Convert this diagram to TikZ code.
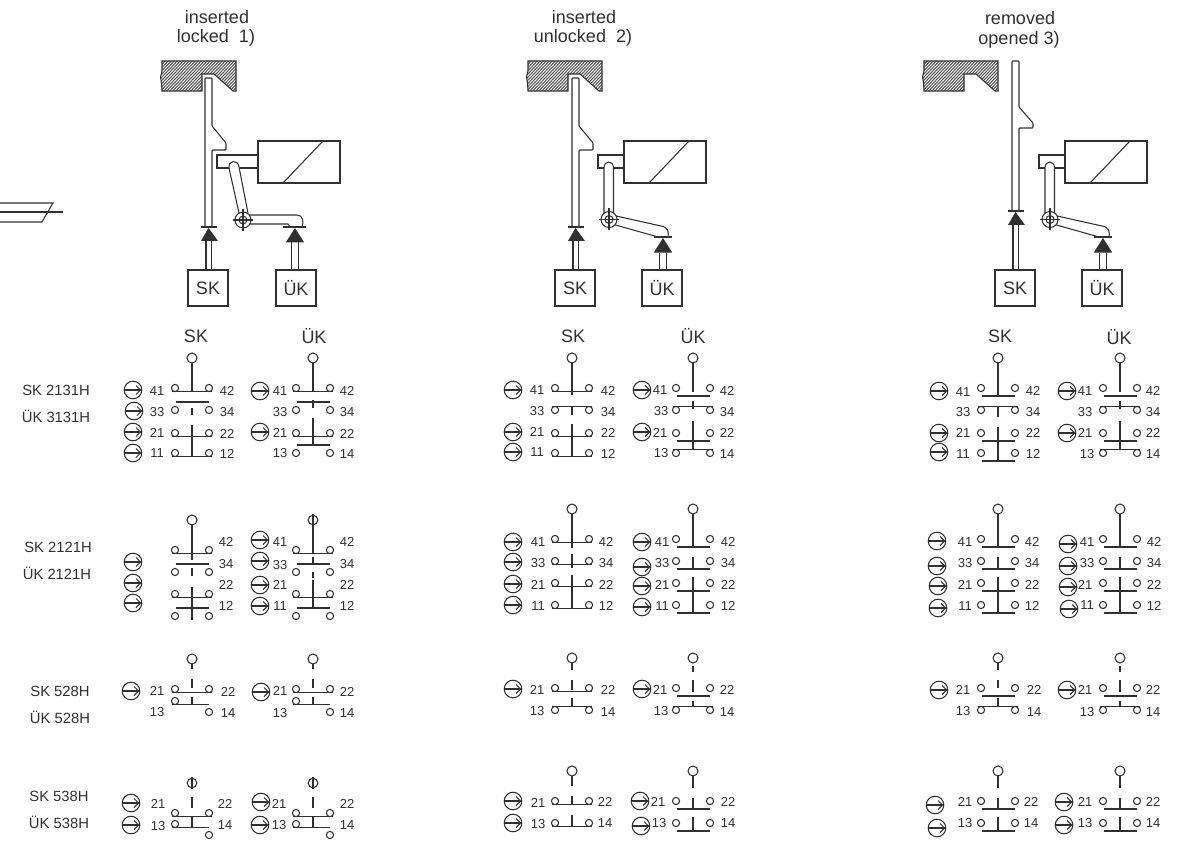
\documentclass[tikz,border=0pt]{standalone}
\usepackage{fontspec}
\setmainfont{Liberation Sans}
\newcount\lc
\definecolor{ink}{HTML}{303030}
\newcommand\lab[4][13]{\global\advance\lc by 1 \node[txt,font=\fontsize{#1}{#1}\selectfont] (t\the\lc) at (#2,#3) {#4};}
\newcommand\num[3]{\lab{#1}{#2}{#3}}
\newcommand\ar[2]{\draw (#1,#2) circle [radius=8.8];\draw (#1-8.8,#2)--(#1+7.5,#2);\draw (#1+3,#2-4.5)--(#1+7.5,#2)--(#1+3,#2+4.5);}
\newcommand\cir[2]{\draw (#1-17,#2) circle [radius=3.6];\draw (#1+17,#2) circle [radius=3.6];}
\newcommand\ctA[2]{\cir{#1}{#2}\draw (#1-20,#2+3.6)--(#1+20,#2+3.6);}
\newcommand\ctB[2]{\cir{#1}{#2}\draw (#1-20,#2-3.6)--(#1+20,#2-3.6);}
\newcommand\ctC[2]{\cir{#1}{#2}\draw (#1-16.5,#2+8)--(#1+16.5,#2+8);}
\newcommand\ctD[2]{\cir{#1}{#2}\draw (#1-16.5,#2-8)--(#1+16.5,#2-8);}
% left circle y, right circle y
\newcommand\ctE[3]{\draw (#1-17,#2) circle [radius=3.6];\draw (#1+17,#3) circle [radius=3.6];\draw (#1-20,#2+3.6)--(#1+17,#2+3.6);}
\newcommand\st[3]{\draw (#1,#2)--(#1,#3);}
\newcommand\tp[2]{\draw (#1,#2) circle [radius=5];}
\newcommand\tpx[2]{\draw (#1,#2) circle [radius=4.8];\draw (#1,#2-6)--(#1,#2+5.5);}
% lock
\newcommand\lockp[1]{(#1+162,61)--(#1+236,61)--(#1+236,91)--(#1+233,91)--(#1+214,74)--(#1+202,74)--(#1+202,91)--(#1+162,91)--(#1+161.5,83)--(#1+160.5,77)--(#1+162,71)--cycle}
\newcommand\lock[1]{\begin{scope}\clip \lockp{#1};
\foreach \i in {0,3,...,114}{\draw[line width=1pt,color=ink!85] (#1+130+\i,95)--(#1+130+\i+36,57);}\end{scope}
\draw \lockp{#1};}
\newcommand\slider[6]{\draw[rounded corners=.8pt] (#1,#6)--(#1,#2)--(#1+7,#2)--(#1+7,#3)--(#1+21,#4)--(#1+21,#5)--(#1+7,#5)--(#1+7,#6);
\draw (#1-4,#6)--(#1+12,#6);
\fill[ink] (#1-4,#6+14)--(#1+3.5,#6+1)--(#1+13,#6+14)--cycle;
\draw (#1+1,#6+14)--(#1+1,270);\draw (#1+6.5,#6+14)--(#1+6.5,270);}
\newcommand\kbox[3]{\global\advance\lc by 1 \node[draw,txt,inner sep=0pt,minimum width=40pt,minimum height=36pt,font=\fontsize{18}{18}\selectfont] (b\the\lc) at (#1,288) {#2};}
\newcommand\sol[1]{\draw (#1,141) rectangle (#1+82,183);\draw (#1+25,183)--(#1+65,141);}
\newcommand\plung[2]{\draw (#2,155)--(#1,155)--(#1,168)--(#2,168);}
\newcommand\pivot[2]{\draw[fill=white] (#1,#2) circle [radius=8];\draw (#1,#2) circle [radius=4];\draw (#1-10,#2)--(#1+10,#2);\draw (#1,#2-11)--(#1,#2+11);}
\newcommand\ukT[2]{\draw (#1-9,#2)--(#1+9,#2);\fill[ink] (#1-9.2,#2+15.5)--(#1,#2+1)--(#1+9.2,#2+15.5)--cycle;\draw (#1-3.4,#2+15.5)--(#1-3.4,270);\draw (#1+3.4,#2+15.5)--(#1+3.4,270);}
\newcommand\levB[1]{\draw[fill=white] (#1-5,214)--(#1-5,168) .. controls (#1-5,160) and (#1+4.5,160) .. (#1+4.5,168)--(#1+4.5,214);
\draw[fill=white] (#1+7,216)--(#1+52,226) .. controls (#1+59,227) and (#1+60,232) .. (#1+59,237)--(#1+49,237)--(#1+3,224);
\pivot{#1}{219.5}}
\tikzset{txt/.style={inner sep=0pt,text=ink,anchor=center}}
\begin{document}
\begin{tikzpicture}[x=1pt,y=-1pt,line width=1.05pt,draw=ink,color=ink]
\path[use as bounding box] (0,0) rectangle (1182,842);
% fragment at left
\draw (0,203)--(53,203)--(42,222)--(0,222);
\draw (0,212)--(63,212);
% ---- top group 1
\lab[18]{217}{17}{inserted}
\lab[18]{216}{38}{locked\ \ 1)}
\lock{0}
\slider{205}{78}{126}{143}{150}{227}
\kbox{208}{SK}{}
\sol{258}
\plung{217}{258}
\draw[fill=white] (239,213)--(229,168) .. controls (228,160) and (238,159) .. (239,167)--(248,213);
\draw[fill=white] (247,215)--(297,215) .. controls (303,215) and (304,222) .. (302,227)--(290,227)--(288,224)--(248,224);
\pivot{243}{220}
\ukT{295}{227}
\draw (283,227)--(306,227);
\kbox{296}{ÜK}{}
% ---- top group 2
\lab[18]{584}{17}{inserted}
\lab[18]{583}{38}{unlocked\ \ 2)}
\lock{366}
\slider{572}{78}{126}{143}{150}{227}
\kbox{575}{SK}{}
\sol{624}
\plung{598}{624}
\levB{609}
\ukT{663}{237}
\kbox{662}{ÜK}{}
% ---- top group 3
\lab[18]{1020}{18}{removed}
\lab[18]{1019}{40}{opened 3)}
\lock{762}
\slider{1012}{61}{107}{123}{128}{211}
\kbox{1015}{SK}{}
\sol{1065}
\plung{1039}{1065}
\levB{1050}
\ukT{1103}{237}
\kbox{1102}{ÜK}{}
% headers
\lab[18]{196}{336}{SK}\lab[18]{314}{336}{ÜK}
\lab[18]{573}{336}{SK}\lab[18]{693}{336}{ÜK}
\lab[18]{1000}{336}{SK}\lab[18]{1119}{337}{ÜK}
% row labels
\lab[14.8]{56}{390}{SK 2131H}\lab[14.8]{56}{416}{ÜK 3131H}
\lab[14.8]{58}{547}{SK 2121H}\lab[14.8]{57}{573}{ÜK 2121H}
\lab[14.8]{60}{691}{SK 528H}\lab[14.8]{60}{717}{ÜK 528H}
\lab[14.8]{59}{796}{SK 538H}\lab[14.8]{59}{822}{ÜK 538H}
% ===== block 1
% G1 SK
\tp{192}{358}\st{192}{363}{392}\ctA{192}{388}\ctD{192}{410}\st{192}{408}{415}\ctA{192}{433}\ctA{192}{453}\st{192}{425}{456.5}
\ar{133}{390}\ar{134}{411}\ar{133}{432}\ar{133}{453}
\num{157}{391}{41}\num{157}{412}{33}\num{157}{433}{21}\num{157}{453}{11}
\num{227}{391}{42}\num{227}{412}{34}\num{227}{434}{22}\num{227}{454}{12}
% G1 UK
\tp{313}{358}\st{313}{363}{392}\ctA{313}{388}\ctD{313}{410}\st{313}{400}{408}\ctA{313}{433}\ctD{313}{453}\st{313}{418}{445}
\ar{260}{391}\ar{260}{432}
\num{280}{391}{41}\num{280}{412}{33}\num{280}{433}{21}\num{280}{453}{13}
\num{347}{391}{42}\num{347}{412}{34}\num{347}{434}{22}\num{347}{454}{14}
% G2 SK
\tp{572}{358}\st{572}{363}{395}\ctA{572}{388}\ctB{572}{410}\st{572}{406}{415}\ctA{572}{433}\ctA{572}{453}\st{572}{424}{456.5}
\ar{513}{390}\ar{513}{432}\ar{513}{452}
\num{537}{390}{41}\num{537}{411}{33}\num{537}{432}{21}\num{537}{452}{11}
\num{608}{391}{42}\num{608}{412}{34}\num{608}{433}{22}\num{608}{454}{12}
% G2 UK
\tp{693}{358}\st{693}{363}{392}\ctC{693}{388}\ctB{693}{410}\st{693}{401}{409}\ctC{693}{433}\ctB{693}{453}\st{693}{421}{449.5}
\ar{642}{390}\ar{642}{432}
\num{660}{390}{41}\num{661}{411}{33}\num{660}{433}{21}\num{661}{453}{13}
\num{727}{391}{42}\num{727}{412}{34}\num{727}{433}{22}\num{727}{454}{14}
% G3 SK
\tp{998}{358}\st{998}{363}{397}\ctC{998}{388}\ctB{998}{410}\st{998}{406}{417}\ctC{998}{433}\ctC{998}{453}\st{998}{427}{461}
\ar{939}{391}\ar{939}{433}\ar{939}{452}
\num{963}{392}{41}\num{963}{412}{33}\num{963}{433}{21}\num{963}{454}{11}
\num{1033}{391}{42}\num{1033}{412}{34}\num{1033}{433}{22}\num{1033}{454}{12}
% G3 UK
\tp{1120}{358}\st{1120}{363}{392}\ctC{1120}{388}\ctB{1120}{410}\st{1120}{401}{409}\ctC{1120}{433}\ctB{1120}{453}\st{1120}{421}{449.5}
\ar{1067}{391}\ar{1067}{433}
\num{1085}{391}{41}\num{1085}{412}{33}\num{1085}{433}{21}\num{1087}{454}{13}
\num{1153}{391}{42}\num{1153}{412}{34}\num{1153}{433}{22}\num{1153}{454}{14}
% ===== block 2
% G1 SK
\tp{192}{520}\st{192}{525}{560}\ctA{192}{550}\ctD{192}{572}\st{192}{568}{576}\ctA{192}{594}\ctD{192}{616}\st{192}{587}{620}
\ar{133}{562}\ar{133}{583}\ar{133}{603}
\num{226}{542}{42}\num{226}{564}{34}\num{226}{585}{22}\num{226}{606}{12}
% G1 UK
\tpx{313}{520}\st{313}{526}{553}\ctA{313}{550}\ctD{313}{572}\st{313}{557}{565}\st{313}{572}{578}\ctA{313}{594}\ctD{313}{616}\st{313}{580}{608}
\ar{260}{540}\ar{260}{561}\ar{260}{585}\ar{260}{606}
\num{280}{542}{41}\num{280}{565}{33}\num{280}{585}{21}\num{280}{606}{11}
\num{347}{542}{42}\num{347}{564}{34}\num{347}{585}{22}\num{347}{606}{12}
% G2 SK
\tp{572}{509}\st{572}{514}{548}\ctA{572}{539}\ctA{572}{561}\st{572}{554}{568}\ctA{572}{583}\ctA{572}{605}\st{572}{575}{608}
\ar{513}{542}\ar{513}{562}\ar{513}{584}\ar{513}{605}
\num{538}{542}{41}\num{538}{563}{33}\num{538}{585}{21}\num{538}{606}{11}
\num{606}{542}{42}\num{606}{563}{34}\num{606}{585}{22}\num{606}{606}{12}
% G2 UK
\tp{693}{509}\st{693}{514}{547}\ctC{693}{539}\ctC{693}{561}\st{693}{557}{569}\ctC{693}{583}\ctC{693}{605}\st{693}{577}{613}
\ar{642}{542}\ar{642}{567}\ar{642}{586}\ar{642}{607}
\num{662}{542}{41}\num{662}{563}{33}\num{662}{585}{21}\num{662}{606}{11}
\num{728}{542}{42}\num{728}{563}{34}\num{728}{585}{22}\num{728}{606}{12}
% G3 SK
\tp{998}{509}\st{998}{514}{547}\ctC{998}{539}\ctC{998}{561}\st{998}{557}{569}\ctC{998}{583}\ctC{998}{605}\st{998}{577}{613}
\ar{937}{541}\ar{937}{566}\ar{938}{586}\ar{938}{608}
\num{965}{542}{41}\num{965}{563}{33}\num{965}{585}{21}\num{965}{606}{11}
\num{1032}{542}{42}\num{1032}{563}{34}\num{1032}{585}{22}\num{1032}{606}{12}
% G3 UK
\tp{1120}{509}\st{1120}{514}{547}\ctC{1120}{539}\ctC{1120}{561}\st{1120}{557}{569}\ctC{1120}{583}\ctC{1120}{605}\st{1120}{577}{613}
\ar{1068}{544}\ar{1068}{566}\ar{1068}{587}\ar{1069}{609}
\num{1087}{542}{41}\num{1087}{563}{33}\num{1085}{585}{21}\num{1087}{605}{11}
\num{1154}{542}{42}\num{1154}{563}{34}\num{1154}{585}{22}\num{1154}{606}{12}
% ===== block 3
% G1 SK
\tp{192}{659}\st{192}{664}{669}\st{192}{679}{688}\ctA{192}{689}\ctE{192}{701}{712}\st{192}{697}{704}
\ar{131}{691}
\num{157}{691}{21}\num{157}{712}{13}\num{228}{692}{22}\num{228}{713}{14}
% G1 UK
\tp{313}{659}\st{313}{664}{669}\st{313}{679}{688}\ctA{313}{689}\ctE{313}{701}{712}\st{313}{697}{704}
\ar{261}{692}
\num{280}{691}{21}\num{280}{713}{13}\num{347}{692}{22}\num{347}{713}{14}
% G2 SK
\tp{572}{658}\st{572}{663}{670}\st{572}{680}{690}\ctA{572}{688}\ctB{572}{710}\st{572}{698}{706}
\ar{513}{689}
\num{537}{690}{21}\num{537}{711}{13}\num{608}{690}{22}\num{608}{712}{14}
% G2 UK
\tp{693}{658}\st{693}{666}{672}\st{693}{680}{692}\ctC{693}{688}\ctB{693}{710}\st{693}{701}{706}
\ar{642}{689}
\num{660}{690}{21}\num{661}{711}{13}\num{727}{690}{22}\num{727}{712}{14}
% G3 SK
\tp{998}{658}\st{998}{663}{670}\st{998}{680}{688}\ctC{998}{688}\ctB{998}{710}\st{998}{698}{706}
\ar{939}{690}
\num{963}{690}{21}\num{963}{711}{13}\num{1034}{690}{22}\num{1034}{712}{14}
% G3 UK
\tp{1120}{658}\st{1120}{666}{672}\st{1120}{680}{692}\ctC{1120}{688}\ctB{1120}{710}\st{1120}{701}{706}
\ar{1067}{690}
\num{1085}{690}{21}\num{1087}{712}{13}\num{1153}{690}{22}\num{1153}{712}{14}
% ===== block 4
% G1 SK
\tpx{192}{783}\st{192}{797}{808}\ctA{192}{813}\ctE{192}{824}{835}\st{192}{816}{827}
\ar{131}{803}\ar{131}{825}
\num{158}{804}{21}\num{158}{826}{13}\num{225}{804}{22}\num{225}{825}{14}
% G1 UK
\tpx{313}{783}\st{313}{797}{808}\ctA{313}{813}\ctE{313}{824}{835}\st{313}{816}{827}
\ar{261}{802}\ar{260}{825}
\num{279}{804}{21}\num{279}{825}{13}\num{347}{804}{22}\num{347}{825}{14}
% G2 SK
\tp{572}{771}\st{572}{776}{786}\st{572}{796}{805}\ctA{572}{801}\ctA{572}{823}\st{572}{815}{826}
\ar{513}{801}\ar{513}{823}
\num{538}{803}{21}\num{538}{824}{13}\num{605}{802}{22}\num{605}{823}{14}
% G2 UK
\tp{693}{771}\st{693}{776}{788}\st{693}{798}{809}\ctC{693}{801}\ctC{693}{823}\st{693}{817}{831}
\ar{640}{801}\ar{641}{826}
\num{658}{802}{21}\num{659}{823}{13}\num{728}{802}{22}\num{728}{823}{14}
% G3 SK
\tp{998}{771}\st{998}{776}{788}\st{998}{798}{809}\ctC{998}{801}\ctC{998}{823}\st{998}{817}{831}
\ar{935}{805}\ar{937}{828}
\num{965}{802}{21}\num{965}{823}{13}\num{1031}{802}{22}\num{1031}{823}{14}
% G3 UK
\tp{1120}{771}\st{1120}{776}{788}\st{1120}{798}{809}\ctC{1120}{801}\ctC{1120}{823}\st{1120}{817}{831}
\ar{1064}{802}\ar{1064}{825}
\num{1085}{802}{21}\num{1085}{823}{13}\num{1153}{802}{22}\num{1153}{823}{14}
\end{tikzpicture}
\end{document}
